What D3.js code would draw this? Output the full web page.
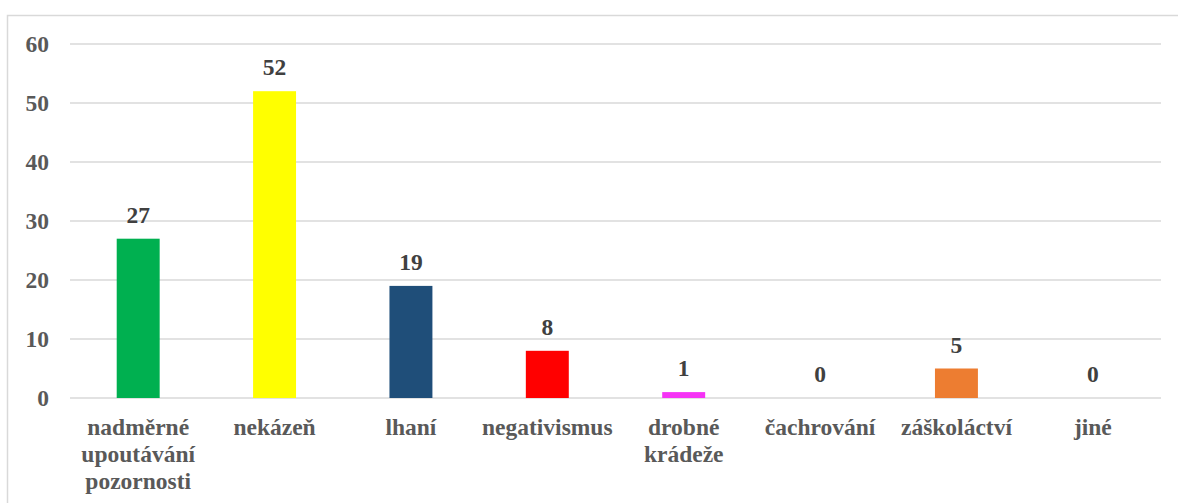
<!DOCTYPE html>
<html>
<head>
<meta charset="utf-8">
<script src="https://cdn.jsdelivr.net/npm/d3@7"></script>
<style>
  body { margin: 0; background: #fff; }
</style>
</head>
<body>
<div id="chart"></div>
<script>
// Chart data
const categories = ['nadměrné upoutávání pozornosti', 'nekázeň', 'lhaní', 'negativismus', 'drobné krádeže', 'čachrování', 'záškoláctví', 'jiné'];
const values = [27, 52, 19, 8, 1, 0, 5, 0];
const barColors = ['#00b050', '#ffff00', '#1f4e79', '#ff0000', '#f533f5', '#a5a5a5', '#ed7d31', '#5b9bd5'];
const yTicks = [0, 10, 20, 30, 40, 50, 60];

const WIDTH = 1178, HEIGHT = 503;
const MARGIN = {top: 44, right: 17, bottom: 105, left: 70};
const FONT = "'Liberation Serif'";
const FONT_SIZE = '23.5px';
const innerW = WIDTH - MARGIN.left - MARGIN.right;
const innerH = HEIGHT - MARGIN.top - MARGIN.bottom;

const svg = d3.select('#chart').append('svg')
  .attr('width', WIDTH)
  .attr('height', HEIGHT);

// Chart area border (runs off the right and bottom edges)
svg.append('rect')
  .attr('x', 7.5).attr('y', 15.5)
  .attr('width', WIDTH + 20).attr('height', HEIGHT + 20)
  .attr('fill', 'none')
  .attr('stroke', '#d9d9d9')
  .attr('stroke-width', 1.5);

const g = svg.append('g')
  .attr('transform', `translate(${MARGIN.left}, ${MARGIN.top})`);

const x = d3.scaleBand()
  .domain(categories)
  .range([0, innerW])
  .paddingInner(0.685)
  .paddingOuter(0.3425);

const y = d3.scaleLinear()
  .domain([0, 60])
  .range([innerH, 0]);

// Gridlines
g.append('g')
  .selectAll('line')
  .data(yTicks)
  .enter()
  .append('line')
  .attr('x1', 0).attr('x2', innerW)
  .attr('y1', d => y(d)).attr('y2', d => y(d))
  .attr('stroke', '#d9d9d9')
  .attr('stroke-width', 1.5);

// Y axis labels
const yAxis = d3.axisLeft(y).tickValues(yTicks).tickSize(0).tickPadding(21);
const yg = g.append('g').call(yAxis);
yg.select('.domain').remove();
yg.attr('font-family', null).attr('font-size', null);
yg.selectAll('text')
  .style('font-family', FONT)
  .style('font-weight', 'bold')
  .style('font-size', FONT_SIZE)
  .attr('fill', '#595959');

// Bars
g.append('g')
  .selectAll('rect')
  .data(values)
  .enter()
  .append('rect')
  .attr('x', (d, i) => x(categories[i]))
  .attr('y', d => y(d))
  .attr('width', x.bandwidth())
  .attr('height', d => innerH - y(d))
  .attr('fill', (d, i) => barColors[i]);

// Data labels
g.append('g')
  .selectAll('text')
  .data(values)
  .enter()
  .append('text')
  .attr('x', (d, i) => x(categories[i]) + x.bandwidth() / 2)
  .attr('y', d => y(d) - 16)
  .attr('text-anchor', 'middle')
  .attr('fill', '#404040')
  .style('font-family', FONT)
  .style('font-weight', 'bold')
  .style('font-size', FONT_SIZE)
  .text(d => d);

// Category labels, wrapped to the band step
const step = x.step();
const catG = g.append('g');
categories.forEach((c, i) => {
  const cx = x(c) + x.bandwidth() / 2;
  const t = catG.append('text')
    .attr('x', cx)
    .attr('y', innerH + 37)
    .attr('text-anchor', 'middle')
    .attr('fill', '#595959')
    .style('font-family', FONT)
    .style('font-weight', 'bold')
    .style('font-size', FONT_SIZE);
  const words = c.split(' ');
  let line = [];
  let tspan = t.append('tspan').attr('x', cx).attr('dy', 0);
  words.forEach(w => {
    line.push(w);
    tspan.text(line.join(' '));
    if (tspan.node().getComputedTextLength() > step - 4 && line.length > 1) {
      line.pop();
      tspan.text(line.join(' '));
      line = [w];
      tspan = t.append('tspan')
        .attr('x', cx)
        .attr('dy', 27)
        .text(w);
    }
  });
});
</script>
</body>
</html>
